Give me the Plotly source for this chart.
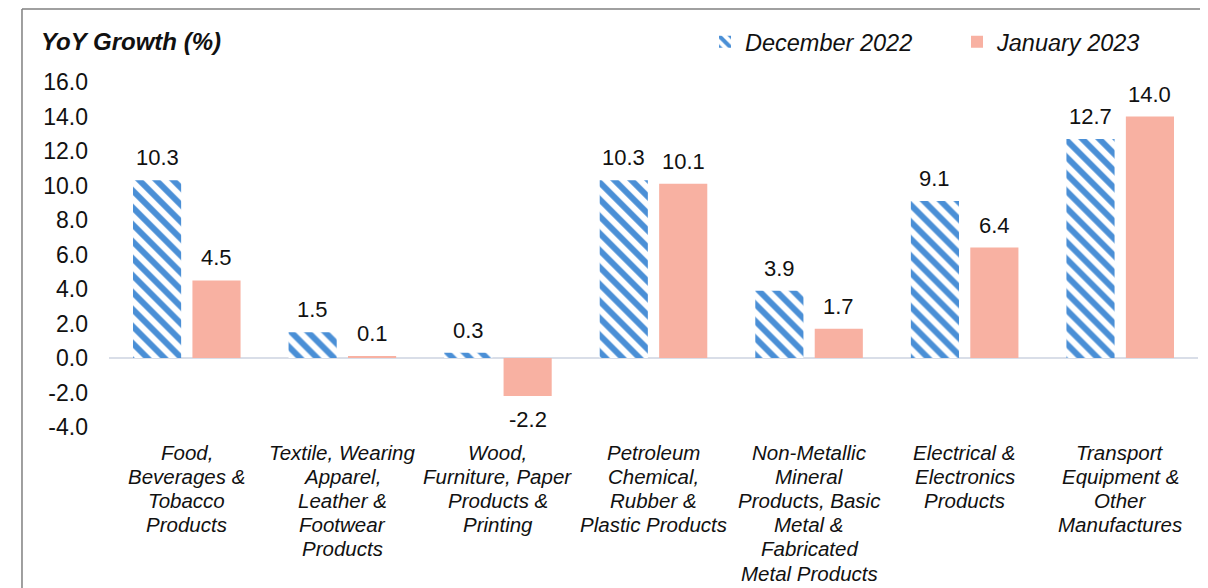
import plotly.graph_objects as go

categories = [
    "Food, Beverages & Tobacco Products",
    "Textile, Wearing Apparel, Leather & Footwear Products",
    "Wood, Furniture, Paper Products & Printing",
    "Petroleum Chemical, Rubber & Plastic Products",
    "Non-Metallic Mineral Products, Basic Metal & Fabricated Metal Products",
    "Electrical & Electronics Products",
    "Transport Equipment & Other Manufactures",
]
category_lines = [
    ["Food,", "Beverages &", "Tobacco", "Products"],
    ["Textile, Wearing", "Apparel,", "Leather &", "Footwear", "Products"],
    ["Wood,", "Furniture, Paper", "Products &", "Printing"],
    ["Petroleum", "Chemical,", "Rubber &", "Plastic Products"],
    ["Non-Metallic", "Mineral", "Products, Basic", "Metal &", "Fabricated", "Metal Products"],
    ["Electrical &", "Electronics", "Products"],
    ["Transport", "Equipment &", "Other", "Manufactures"],
]
dec_2022 = [10.3, 1.5, 0.3, 10.3, 3.9, 9.1, 12.7]
jan_2023 = [4.5, 0.1, -2.2, 10.1, 1.7, 6.4, 14.0]
y_ticks = [-4, -2, 0, 2, 4, 6, 8, 10, 12, 14, 16]
y_tick_text = [f"{v:.1f}" for v in y_ticks]

FONT = "Liberation Sans, Arial, sans-serif"
BAR_OFFSET_PX = 29.75

fig = go.Figure()
fig.add_trace(go.Bar(
    x=categories, y=dec_2022, name="December 2022",
    marker=dict(color="#4A8FD6", line=dict(width=0),
                pattern=dict(shape="\\", fgcolor="#4A8FD6", bgcolor="white",
                             fgopacity=1, size=12, solidity=0.5, fillmode="replace")),
))
fig.add_trace(go.Bar(
    x=categories, y=jan_2023, name="January 2023",
    marker=dict(color="#F8B1A2", line=dict(width=0)),
))

annotations = [dict(text="<b><i>YoY Growth (%)</i></b>", xref="paper", yref="paper",
                    x=-0.0643, y=1.116, xanchor="left", yanchor="middle",
                    showarrow=False, font=dict(size=24, family=FONT, color="#111"))]

# data labels
for series, shift in ((dec_2022, -BAR_OFFSET_PX), (jan_2023, BAR_OFFSET_PX)):
    for cat, v in zip(categories, series):
        annotations.append(dict(
            text=f"{v:.1f}", x=cat, y=v, xref="x", yref="y",
            xshift=shift, yshift=22.5 if v >= 0 else -24,
            xanchor="center", yanchor="middle", showarrow=False,
            font=dict(size=22, family=FONT, color="#111")))

# category labels (one annotation per line for tight line spacing)
for cat, lines in zip(categories, category_lines):
    for i, line in enumerate(lines):
        annotations.append(dict(
            text=f"<i>{line}</i>", x=cat, xref="x", yref="paper",
            y=-0.0725, yshift=-24.2 * i, xanchor="center", yanchor="middle",
            showarrow=False, font=dict(size=20.5, family=FONT, color="#111")))

fig.update_layout(
    width=1200, height=580,
    margin=dict(l=101, r=10, t=74, b=161, autoexpand=False),
    paper_bgcolor="white", plot_bgcolor="white",
    font=dict(family=FONT, color="#111"),
    barmode="group", bargap=0.236, bargroupgap=0.19,
    showlegend=True,
    legend=dict(orientation="h", x=0.5473, y=1.116, xanchor="left", yanchor="middle",
                font=dict(size=23.5, style="italic", family=FONT),
                entrywidth=207, entrywidthmode="pixels",
                bgcolor="rgba(0,0,0,0)", traceorder="normal"),
    xaxis=dict(showline=False, showgrid=False, ticks="", automargin=False,
               showticklabels=False),
    yaxis=dict(range=[-4, 16], tickvals=y_ticks, ticktext=y_tick_text,
               showgrid=False, showline=False, ticks="", automargin=False,
               zeroline=True, zerolinecolor="#D9DEE8", zerolinewidth=2,
               ticklabelstandoff=20,
               tickfont=dict(size=23, family=FONT)),
    annotations=annotations,
    shapes=[
        dict(type="line", xref="paper", yref="paper", x0=-0.0799, x1=-0.0799,
             y0=1.2116, y1=-0.6, line=dict(color="#808080", width=1.5)),
        dict(type="line", xref="paper", yref="paper", x0=-0.0799, x1=1.02,
             y0=1.2116, y1=1.2116, line=dict(color="#808080", width=1.5)),
    ],
)

fig.write_html("out.html")
